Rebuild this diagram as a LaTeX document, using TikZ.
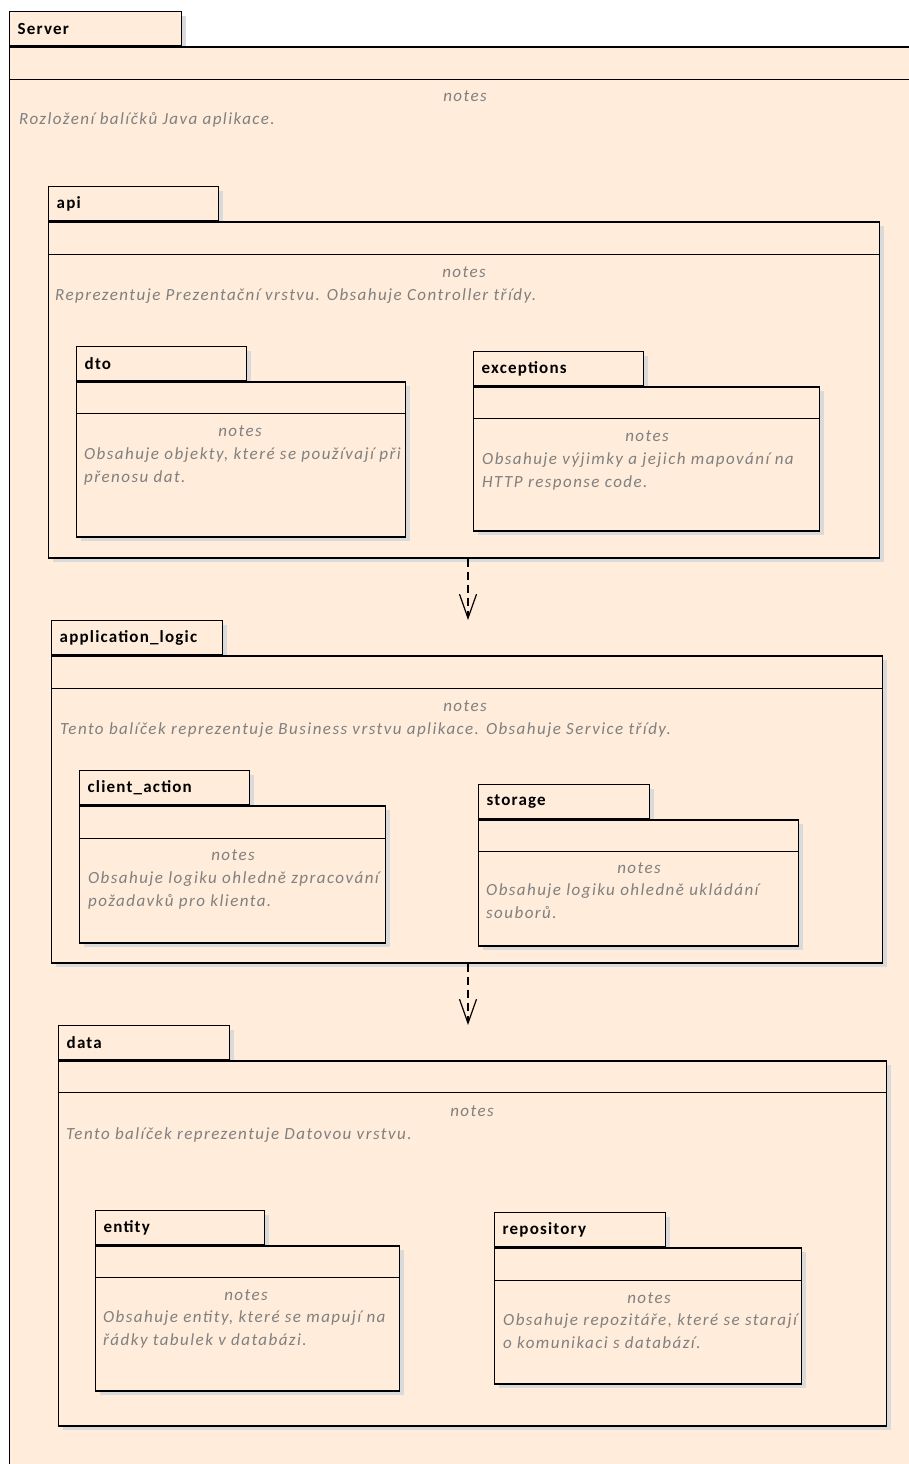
\documentclass[tikz,border=0pt]{standalone}
\usepackage{fontspec}
\setmainfont{Carlito}
\usetikzlibrary{shadows,arrows.meta}
\definecolor{pkgfill}{RGB}{255,236,218}
\definecolor{pkgshade}{RGB}{218,218,218}
\definecolor{notegray}{RGB}{128,128,128}
\tikzset{
  pkgbox/.style={draw=black, line width=1.3pt, fill=pkgfill, inner sep=0pt, anchor=north west,
    drop shadow={shadow xshift=4pt, shadow yshift=-4pt, fill=pkgshade, opacity=1}},
  pkgtab/.style={pkgbox},
  pkgname/.style={anchor=west, inner sep=0pt, font=\fontsize{17}{20}\selectfont\bfseries\addfontfeature{LetterSpace=7}},
  sepline/.style={draw=black, line width=1pt},
  notehead/.style={text=notegray, font=\fontsize{17}{20}\selectfont\itshape\addfontfeature{LetterSpace=8.5}, anchor=base, inner sep=0pt},
  notetext/.style={text=notegray, font=\fontsize{17}{23}\selectfont\itshape\addfontfeature{LetterSpace=8.5}, anchor=base west, inner sep=0pt, align=left},
  dep/.style={draw=black, line width=1.2pt, dash pattern=on 8pt off 5pt, -{Straight Barb[length=24pt, width=17pt, line width=1.2pt]}}
}
% a package: name, tab width, tab corner, body size, separator offset, notes position,
% baseline of the last text line, text
\newcommand{\umlpkg}[9]{%
  \node[pkgtab, minimum width=#2pt, minimum height=34pt] (#1-tab) at (#3) {};
  \node[pkgname] (#1-name) at ([xshift=8.5pt]#1-tab.west) {\detokenize{#1}};
  \node[pkgbox, minimum width=#4pt, minimum height=#5pt] (#1) at (#1-tab.south west) {};
  \draw[sepline] ([yshift=-#6pt]#1.north west) -- ([yshift=-#6pt]#1.north east);
  \node[notehead] (#1-notes) at (#7) {notes};
  \node[notetext] (#1-text) at (#8) {#9};
}
\begin{document}
\begin{tikzpicture}[x=1pt,y=-1pt]
\useasboundingbox (0,0) rectangle (909,1464);
\clip (0,0) rectangle (909,1464);

% outer package, cut off by the page on the right and at the bottom
\node[pkgtab, minimum width=172pt, minimum height=34pt] (Server-tab) at (9,11) {};
\node[pkgname] (Server-name) at ([xshift=8.5pt]Server-tab.west) {Server};
\node[pkgbox, minimum width=1000pt, minimum height=1600pt] (Server) at (Server-tab.south west) {};
\draw[sepline] ([yshift=-33pt]Server.north west) -- ([yshift=-33pt]Server.north east);
\node[notehead] (Server-notes) at (465,101) {notes};
\node[notetext] (Server-text) at (19,124) {Rozložení balíčků Java aplikace.};

% presentation layer
\umlpkg{api}{170}{48,186}{831}{336}{33}{464,277}{55,300}{Reprezentuje Prezentační vrstvu. Obsahuje Controller třídy.}
\umlpkg{dto}{170}{76,346}{329}{155}{32}{240,436}{84,482}{Obsahuje objekty, které se používají při\\přenosu dat.}
\umlpkg{exceptions}{170}{473,351}{346}{144}{32}{647,441}{482,487}{Obsahuje výjimky a jejich mapování na\\HTTP response code.}

% business layer
\umlpkg{application_logic}{171}{51,620}{831}{307}{33}{465,711}{60,734}{Tento balíček reprezentuje Business vrstvu aplikace. Obsahuje Service třídy.}
\umlpkg{client_action}{170}{79,770}{306}{137}{33}{233,860}{88,906}{Obsahuje logiku ohledně zpracování\\požadavků pro klienta.}
\umlpkg{storage}{171}{478,784}{320}{126}{32}{639,873}{486,918}{Obsahuje logiku ohledně ukládání\\souborů.}

% data layer
\umlpkg{data}{171}{58,1025}{828}{365}{32}{472,1116}{66,1139}{Tento balíček reprezentuje Datovou vrstvu.}
\umlpkg{entity}{169}{95,1210}{304}{145}{32}{246,1300}{103,1345}{Obsahuje entity, které se mapují na\\řádky tabulek v databázi.}
\umlpkg{repository}{171}{494,1212}{307}{136}{33}{649,1303}{503,1348}{Obsahuje repozitáře, které se starají\\o komunikaci s databází.}

% dependencies between the layers
\coordinate (axis) at (468,0);
\draw[dep] (api.south -| axis) -- (application_logic-tab.north -| axis);
\draw[dep] (application_logic.south -| axis) -- (data-tab.north -| axis);
\end{tikzpicture}
\end{document}
